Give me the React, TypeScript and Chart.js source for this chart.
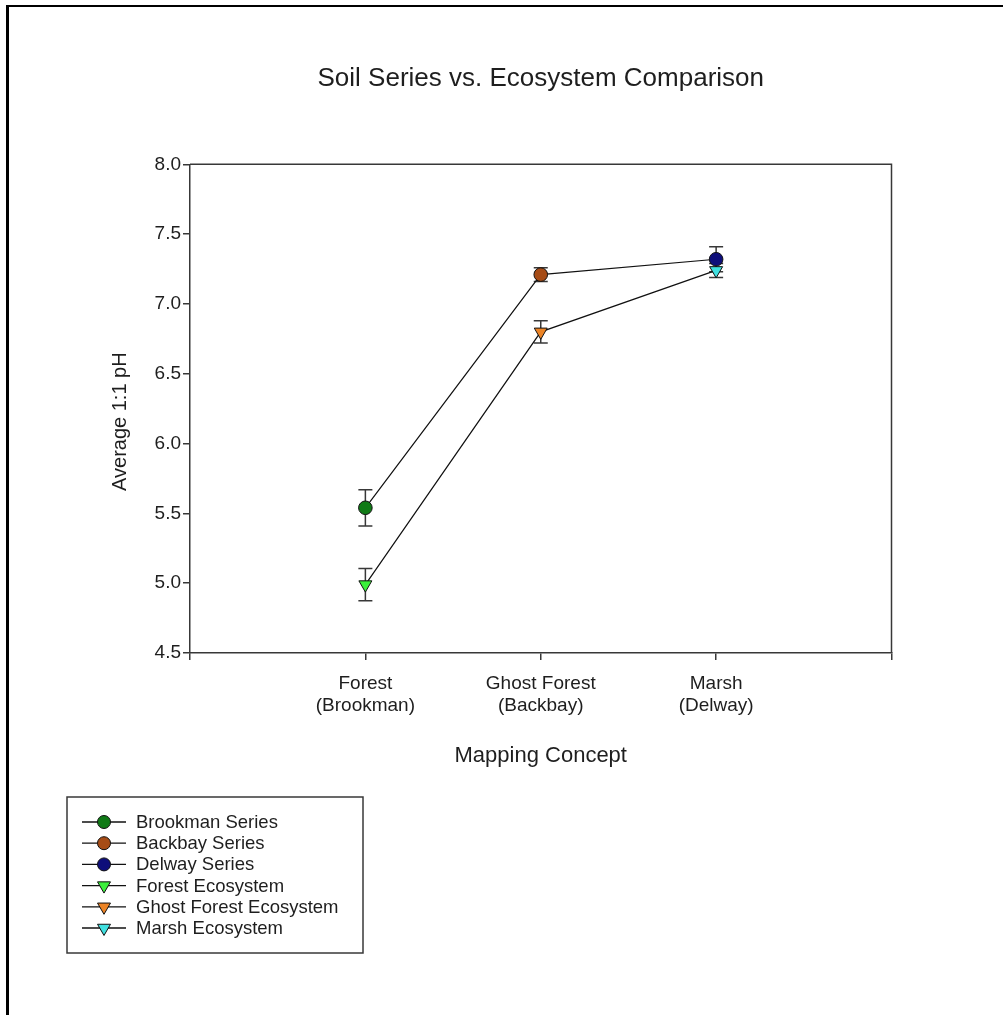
import React, { useEffect, useRef } from 'react';
import { Chart, registerables } from 'chart.js';

Chart.register(...registerables);

// Categories along the x axis (numeric positions on a 0..4 linear scale)
const categoryPositions = [1, 2, 3];
const categoryLabels: string[][] = [
  ['Forest', '(Brookman)'],
  ['Ghost Forest', '(Backbay)'],
  ['Marsh', '(Delway)'],
];

// Soil series means and standard errors
const seriesNames = ['Brookman Series', 'Backbay Series', 'Delway Series'];
const seriesMeans = [5.54, 7.21, 7.32];
const seriesErrors = [0.13, 0.05, 0.09];
const seriesColors = ['#107a16', '#a64c16', '#0e0e7a'];

// Ecosystem means and standard errors
const ecosystemNames = ['Forest Ecosystem', 'Ghost Forest Ecosystem', 'Marsh Ecosystem'];
const ecosystemMeans = [4.99, 6.8, 7.24];
const ecosystemErrors = [0.115, 0.08, 0.05];
const ecosystemColors = ['#3cf03c', '#ec8426', '#40e0e0'];

// Axis ranges
const yMin = 4.5;
const yMax = 8.0;
const yStep = 0.5;
const xMin = 0;
const xMax = 4;

const Y_TITLE = 'Average 1:1 pH';

const FONT = "'Liberation Sans', Arial, sans-serif";
const TEXT = '#1e1e1e';
const AXIS = '#383838';

// Error bars drawn under the markers
const errorBarPlugin = {
  id: 'errorBars',
  beforeDatasetsDraw(chart: any) {
    const { ctx, scales } = chart;
    const xs = scales.x;
    const ys = scales.y;
    ctx.save();
    ctx.strokeStyle = AXIS;
    ctx.lineWidth = 1.5;
    chart.data.datasets.forEach((ds: any) => {
      if (!ds.errors) return;
      ds.data.forEach((p: any, i: number) => {
        const e = ds.errors[i];
        const x = xs.getPixelForValue(p.x);
        const yTop = ys.getPixelForValue(p.y + e);
        const yBot = ys.getPixelForValue(p.y - e);
        const cap = 7;
        ctx.beginPath();
        ctx.moveTo(x, yTop);
        ctx.lineTo(x, yBot);
        ctx.moveTo(x - cap, yTop);
        ctx.lineTo(x + cap, yTop);
        ctx.moveTo(x - cap, yBot);
        ctx.lineTo(x + cap, yBot);
        ctx.stroke();
      });
    });
    ctx.restore();
  },
};

// Top and right edges of the plot frame, plus the rotated y-axis title
const frameEdgesPlugin = {
  id: 'frameEdges',
  afterDraw(chart: any) {
    const { ctx, chartArea } = chart;
    ctx.save();
    ctx.strokeStyle = AXIS;
    ctx.lineWidth = 1.5;
    ctx.beginPath();
    ctx.moveTo(chartArea.left, chartArea.top);
    ctx.lineTo(chartArea.right, chartArea.top);
    ctx.lineTo(chartArea.right, chartArea.bottom);
    ctx.stroke();

    const cy = (chartArea.top + chartArea.bottom) / 2 + 13;
    ctx.translate(120, cy);
    ctx.rotate(-Math.PI / 2);
    ctx.font = `20px ${FONT}`;
    ctx.fillStyle = TEXT;
    ctx.textAlign = 'center';
    ctx.textBaseline = 'middle';
    ctx.fillText(Y_TITLE, 0, 0);
    ctx.restore();
  },
};

function drawMarker(ctx: CanvasRenderingContext2D, style: string, x: number, y: number, r: number, fill: string) {
  ctx.beginPath();
  if (style === 'circle') {
    ctx.arc(x, y, r, 0, Math.PI * 2);
  } else {
    const s = Math.sin(Math.PI / 3) * r;
    ctx.moveTo(x, y + r);
    ctx.lineTo(x - s, y - r / 2);
    ctx.lineTo(x + s, y - r / 2);
    ctx.closePath();
  }
  ctx.fillStyle = fill;
  ctx.fill();
  ctx.strokeStyle = '#111';
  ctx.lineWidth = 1;
  ctx.stroke();
}

// Boxed legend below the plot: line sample with marker, then the label
const boxLegendPlugin = {
  id: 'boxLegend',
  afterDraw(chart: any) {
    const { ctx } = chart;
    const items = chart.data.datasets.filter((d: any) => !d.connector);
    const box = { left: 67, top: 797, width: 296, height: 156 };
    const firstRow = 822;
    const rowGap = 21.2;
    ctx.save();
    ctx.strokeStyle = AXIS;
    ctx.lineWidth = 1.5;
    ctx.strokeRect(box.left, box.top, box.width, box.height);
    ctx.font = `18.5px ${FONT}`;
    ctx.textBaseline = 'middle';
    ctx.textAlign = 'left';
    items.forEach((d: any, i: number) => {
      const y = firstRow + i * rowGap;
      ctx.strokeStyle = '#111';
      ctx.lineWidth = 1.3;
      ctx.beginPath();
      ctx.moveTo(82, y);
      ctx.lineTo(126, y);
      ctx.stroke();
      drawMarker(ctx, d.pointStyle, 104, y, d.pointStyle === 'circle' ? 6.5 : 7.5, d.backgroundColor);
      ctx.fillStyle = TEXT;
      ctx.fillText(d.label, 136, y + 1);
    });
    ctx.restore();
  },
};

export default function App() {
  const canvasRef = useRef<HTMLCanvasElement | null>(null);

  useEffect(() => {
    const canvas = canvasRef.current;
    if (!canvas) return;

    const toPoints = (means: number[]) => means.map((y, i) => ({ x: categoryPositions[i], y }));

    const connector = (means: number[]) => ({
      type: 'line' as const,
      label: '',
      connector: true,
      data: toPoints(means),
      borderColor: '#111',
      borderWidth: 1.2,
      pointRadius: 0,
      fill: false,
      tension: 0,
      order: 2,
    });

    const markerSet = (label: string, mean: number, err: number, i: number, color: string, style: string) => ({
      type: 'line' as const,
      label,
      data: [{ x: categoryPositions[i], y: mean }],
      errors: [err],
      showLine: false,
      pointStyle: style,
      pointRotation: style === 'triangle' ? 180 : 0,
      pointRadius: style === 'circle' ? 6.8 : 7.5,
      pointBackgroundColor: color,
      backgroundColor: color,
      pointBorderColor: '#111',
      pointBorderWidth: 1,
      borderColor: '#111',
      order: 1,
    });

    const datasets: any[] = [
      connector(seriesMeans),
      connector(ecosystemMeans),
      ...seriesNames.map((n, i) => markerSet(n, seriesMeans[i], seriesErrors[i], i, seriesColors[i], 'circle')),
      ...ecosystemNames.map((n, i) =>
        markerSet(n, ecosystemMeans[i], ecosystemErrors[i], i, ecosystemColors[i], 'triangle')
      ),
    ];

    const chart = new Chart(canvas, {
      type: 'line',
      data: { datasets },
      options: {
        animation: false,
        responsive: false,
        devicePixelRatio: 1,
        layout: { padding: { left: 0, right: 111.5, top: 0, bottom: 0 } },
        plugins: {
          legend: { display: false },
          tooltip: { enabled: false },
          title: {
            display: true,
            fullSize: false,
            text: 'Soil Series vs. Ecosystem Comparison',
            color: TEXT,
            font: { family: FONT, size: 26, weight: 'normal' },
            padding: { top: 63.4, bottom: 69.7 },
          },
        },
        scales: {
          x: {
            type: 'linear',
            min: xMin,
            max: xMax,
            ticks: {
              stepSize: 1,
              autoSkip: false,
              maxRotation: 0,
              padding: 12,
              color: TEXT,
              font: { family: FONT, size: 19 },
              callback: (v: any) => {
                const i = categoryPositions.indexOf(Number(v));
                return i >= 0 ? categoryLabels[i] : '';
              },
            },
            grid: { drawOnChartArea: false, drawTicks: true, tickLength: 7, color: AXIS, lineWidth: 1.5 },
            border: { color: AXIS, width: 1.5 },
            title: {
              display: true,
              text: 'Mapping Concept',
              color: TEXT,
              font: { family: FONT, size: 22 },
              padding: { top: 0, bottom: 245.8 },
            },
            afterFit: (s: any) => {
              s.height = 362;
            },
          },
          y: {
            type: 'linear',
            min: yMin,
            max: yMax,
            ticks: {
              stepSize: yStep,
              padding: 2,
              color: TEXT,
              font: { family: FONT, size: 19 },
              callback: (v: any) => Number(v).toFixed(1),
            },
            grid: { drawOnChartArea: false, drawTicks: true, tickLength: 7, color: AXIS, lineWidth: 1.5 },
            border: { color: AXIS, width: 1.5 },
            afterFit: (s: any) => {
              s.width = 190;
            },
          },
        },
      },
      plugins: [errorBarPlugin, frameEdgesPlugin, boxLegendPlugin],
    } as any);

    return () => chart.destroy();
  }, []);

  return (
    <div style={{ position: 'absolute', left: 0, top: 0, width: 1003, height: 1015, background: '#fff' }}>
      <canvas ref={canvasRef} width={1003} height={1015} style={{ position: 'absolute', left: 0, top: 0 }} />
      <div
        style={{
          position: 'absolute',
          left: 6,
          top: 5,
          width: 997,
          height: 1010,
          borderLeft: '3px solid #000',
          borderTop: '2px solid #000',
          boxSizing: 'border-box',
          pointerEvents: 'none',
        }}
      />
    </div>
  );
}
